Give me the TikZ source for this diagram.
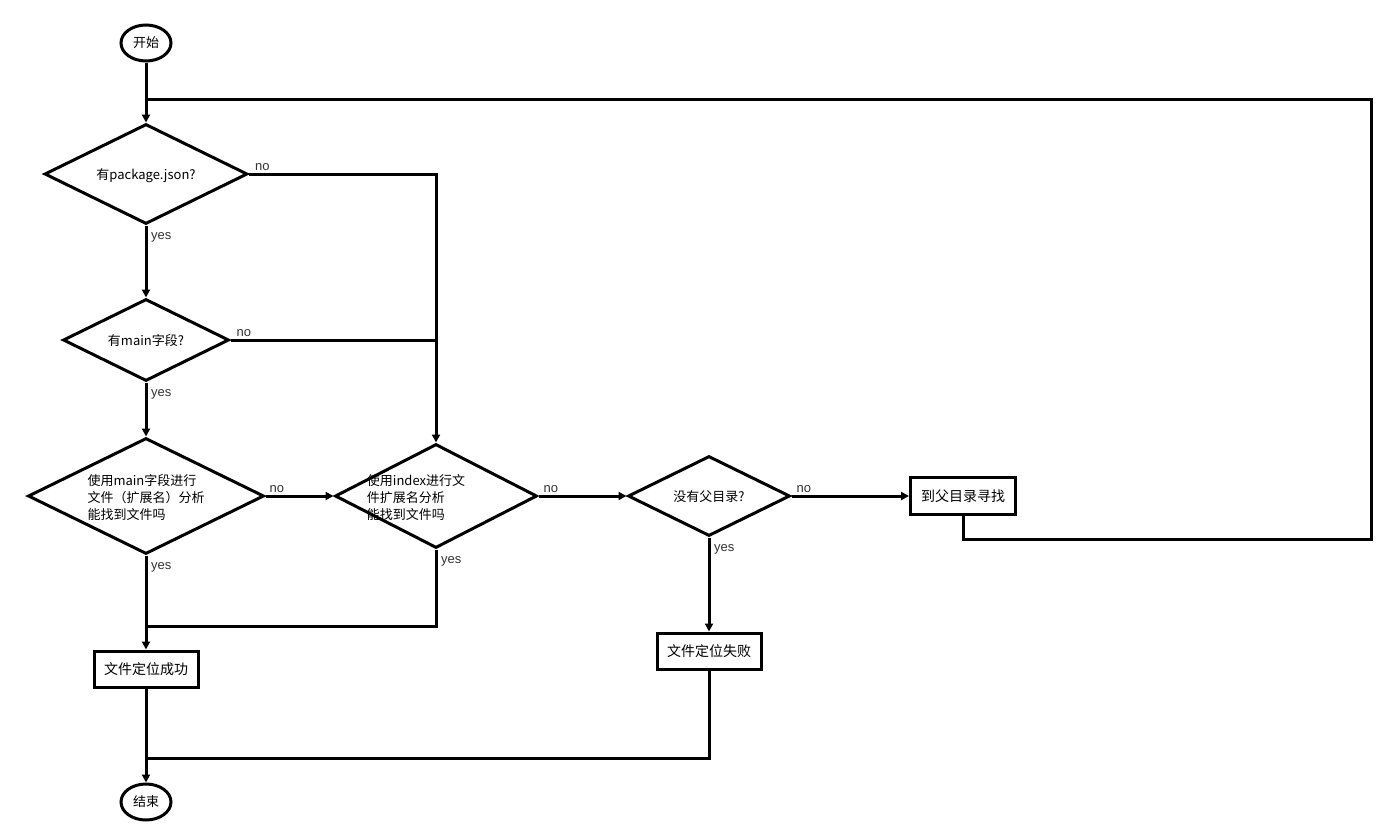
\documentclass[tikz,border=0pt]{standalone}
\usepackage{fontspec}
\setmainfont{Noto Sans CJK SC}
\newfontfamily\labfont{Liberation Sans}
\usetikzlibrary{shapes.geometric,arrows.meta}
\newcommand{\zbox}[2][-5pt]{\smash{\makebox[0pt]{\raisebox{#1}{#2}}}}
\newcommand{\ltext}[2]{\zbox[#1]{\begin{tabular}{@{}l@{}}#2\end{tabular}}}
\begin{document}
\begin{tikzpicture}[x=1pt,y=-1pt,
  every node/.style={font=\fontsize{13}{17}\selectfont},
  conn/.style={draw, line width=3pt},
  arr/.style={conn, -{Triangle[length=8pt,width=8pt]}},
  term/.style={draw, line width=3pt, ellipse, minimum width=50pt, minimum height=36pt, inner sep=0pt},
  proc/.style={draw, line width=3pt, rectangle, minimum width=104pt, minimum height=36pt, inner sep=0pt, font=\fontsize{14}{17}\selectfont},
  dec/.style={draw, line width=3pt, diamond, inner sep=0pt},
  lab/.style={font=\labfont\fontsize{13}{15}\selectfont, text=black!80, inner sep=0pt}
]
\useasboundingbox[fill=white] (0,0) rectangle (1394,838);

\node[term] (start) at (146,43) {开始};
\node[dec, minimum width=203pt, minimum height=100pt] (d1) at (146,174) {\zbox{有package.json?}};
\node[dec, minimum width=166pt, minimum height=82pt] (d2) at (146,340) {\zbox{有main字段?}};
\node[dec, minimum width=236pt, minimum height=116pt] (d3) at (146,496)
  {\ltext{-6pt}{使用main字段进行\\文件（扩展名）分析\\能找到文件吗}};
\node[dec, minimum width=202pt, minimum height=104pt] (d4) at (436,496)
  {\hspace*{-40pt}\ltext{-6pt}{使用index进行文\\件扩展名分析\\能找到文件吗}};
\node[dec, minimum width=162pt, minimum height=80pt] (d5) at (709,496) {\zbox{没有父目录?}};
\node[proc, minimum width=105pt, minimum height=37pt] (parent) at (963,496) {到父目录寻找};
\node[proc] (fail) at (709,651) {文件定位失败};
\node[proc] (succ) at (146,669) {文件定位成功};
\node[term] (end) at (146,802) {结束};

\coordinate (loopA) at (1371,539);
\coordinate (loopB) at (1371,99);
\coordinate (j1) at (146,99);
\coordinate (j2) at (146,626);
\coordinate (j3) at (146,758);

% connectors
\path[arr] (start.south) -- (d1.north);
\path[conn] (parent.south) |- (loopA) -- (loopB) -- (j1);
\path[arr] (d1.south) -- (d2.north);
\path[arr] (d1.east) -| (d4.north);
\path[conn] (d2.east) -- (d2.east -| d4.north);
\path[arr] (d2.south) -- (d3.north);
\path[arr] (d3.east) -- (d4.west);
\path[arr] (d4.east) -- (d5.west);
\path[arr] (d5.east) -- (parent.west);
\path[arr] (d5.south) -- (fail.north);
\path[arr] (d3.south) -- (succ.north);
\path[conn] (d4.south) |- (j2);
\path[arr] (succ.south) -- (end.north);
\path[conn] (fail.south) |- (j3);

% labels
\node[lab, anchor=south west] (l1) at ([xshift=6pt,yshift=3pt]d1.east) {no};
\node[lab, anchor=north west] (l2) at ([xshift=5pt,yshift=-7pt]d1.south) {yes};
\node[lab, anchor=south west] (l3) at ([xshift=6pt,yshift=3pt]d2.east) {no};
\node[lab, anchor=north west] (l4) at ([xshift=5pt,yshift=-7pt]d2.south) {yes};
\node[lab, anchor=south west] (l5) at ([xshift=4pt,yshift=3pt]d3.east) {no};
\node[lab, anchor=north west] (l6) at ([xshift=5pt,yshift=-7pt]d3.south) {yes};
\node[lab, anchor=south west] (l7) at ([xshift=5pt,yshift=3pt]d4.east) {no};
\node[lab, anchor=north west] (l8) at ([xshift=5pt,yshift=-7pt]d4.south) {yes};
\node[lab, anchor=south west] (l9) at ([xshift=5pt,yshift=3pt]d5.east) {no};
\node[lab, anchor=north west] (l10) at ([xshift=5pt,yshift=-7pt]d5.south) {yes};
\end{tikzpicture}
\end{document}
